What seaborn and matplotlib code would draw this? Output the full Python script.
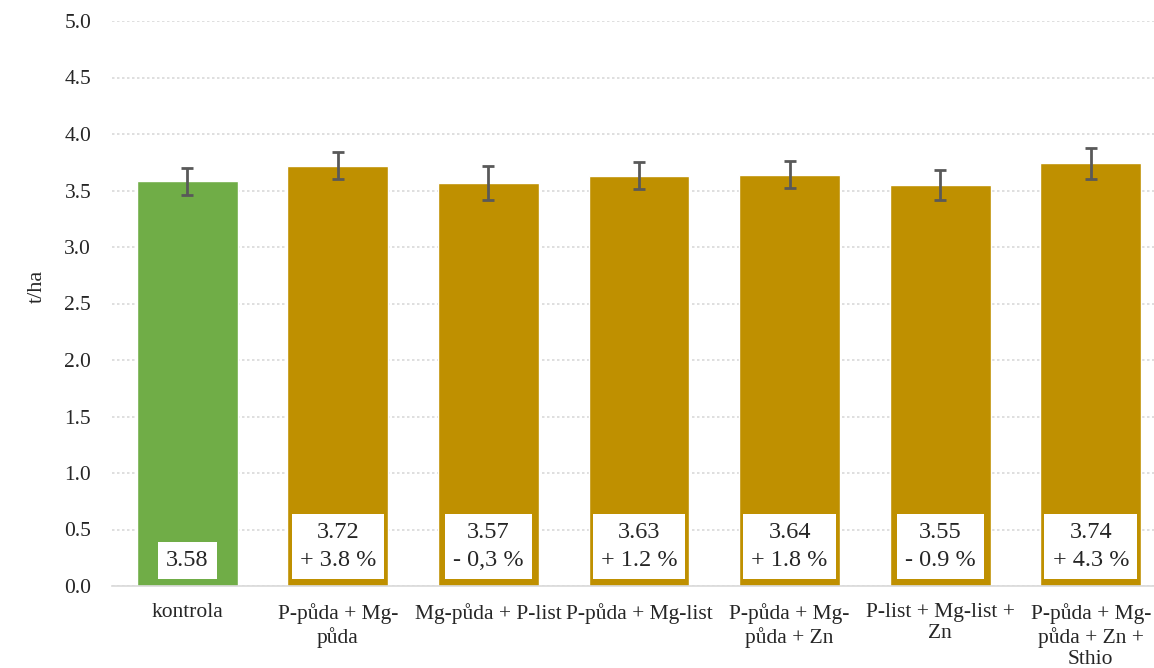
import matplotlib
matplotlib.use("Agg")
import matplotlib.pyplot as plt
import seaborn as sns
import pandas as pd

# Data
categories = ["kontrola", "P-půda + Mg-\npůda", "Mg-půda + P-list", "P-půda + Mg-list",
              "P-půda + Mg-\npůda + Zn", "P-list + Mg-list +\nZn", "P-půda + Mg-\npůda + Zn +\nSthio"]
yields = [3.58, 3.72, 3.57, 3.63, 3.64, 3.55, 3.74]
errors = [0.12, 0.12, 0.15, 0.12, 0.12, 0.135, 0.135]
changes = ["", "+ 3.8 %", "- 0,3 %", "+ 1.2 %", "+ 1.8 %", "- 0.9 %", "+ 4.3 %"]
y_ticks = [0.0, 0.5, 1.0, 1.5, 2.0, 2.5, 3.0, 3.5, 4.0, 4.5, 5.0]

green = "#70AD47"
gold = "#BF9000"
colors = [green] + [gold] * (len(categories) - 1)

sns.set_style("white")
plt.rcParams["font.family"] = ["Liberation Serif", "DejaVu Serif"]

df = pd.DataFrame({"cat": categories, "val": yields})

fig = plt.figure(figsize=(11.54, 6.68), dpi=100)
ax = fig.add_axes([112 / 1154, 82 / 668, 1 - 112 / 1154, (586 - 21) / 668])

sns.barplot(data=df, x="cat", y="val", hue="cat", palette=colors, legend=False,
            width=0.67, saturation=1, ax=ax)

# error bars
ax.errorbar(range(len(categories)), yields, yerr=errors, fmt="none",
            ecolor="#595959", elinewidth=2, capsize=4.5, capthick=2, zorder=4)

# value labels in white boxes
for i, (v, c) in enumerate(zip(yields, changes)):
    txt = f"{v:.2f}" if c == "" else f"{v:.2f}\n{c}"
    ax.annotate(txt, xy=(i, 0), xytext=(0, 11), textcoords="offset points",
                ha="center", va="bottom", fontsize=17.5, linespacing=1.4,
                bbox=dict(boxstyle="square,pad=0.33", fc="white", ec="none"),
                zorder=5)

ax.set_ylim(0, 5.0)
ax.set_xlim(-0.5, 6.42)
ax.set_yticks(y_ticks)
ax.set_yticklabels([f"{t:.1f}" for t in y_ticks])
ax.yaxis.grid(True, linestyle=(0, (1.5, 1.5)), color="#D9D9D9", linewidth=1.2)
ax.set_axisbelow(True)

for s in ["top", "right", "left"]:
    ax.spines[s].set_visible(False)
ax.spines["bottom"].set_color("#D9D9D9")
ax.spines["bottom"].set_linewidth(1.2)

ax.tick_params(axis="y", length=0, pad=15, labelsize=15.5)
ax.tick_params(axis="x", length=0, pad=12, labelsize=15.5)
ax.set_xlabel("")
ax.set_ylabel("t/ha", fontsize=16)
ax.yaxis.set_label_coords(-0.063, 0.53)

fig.savefig("out.png", dpi=100)
